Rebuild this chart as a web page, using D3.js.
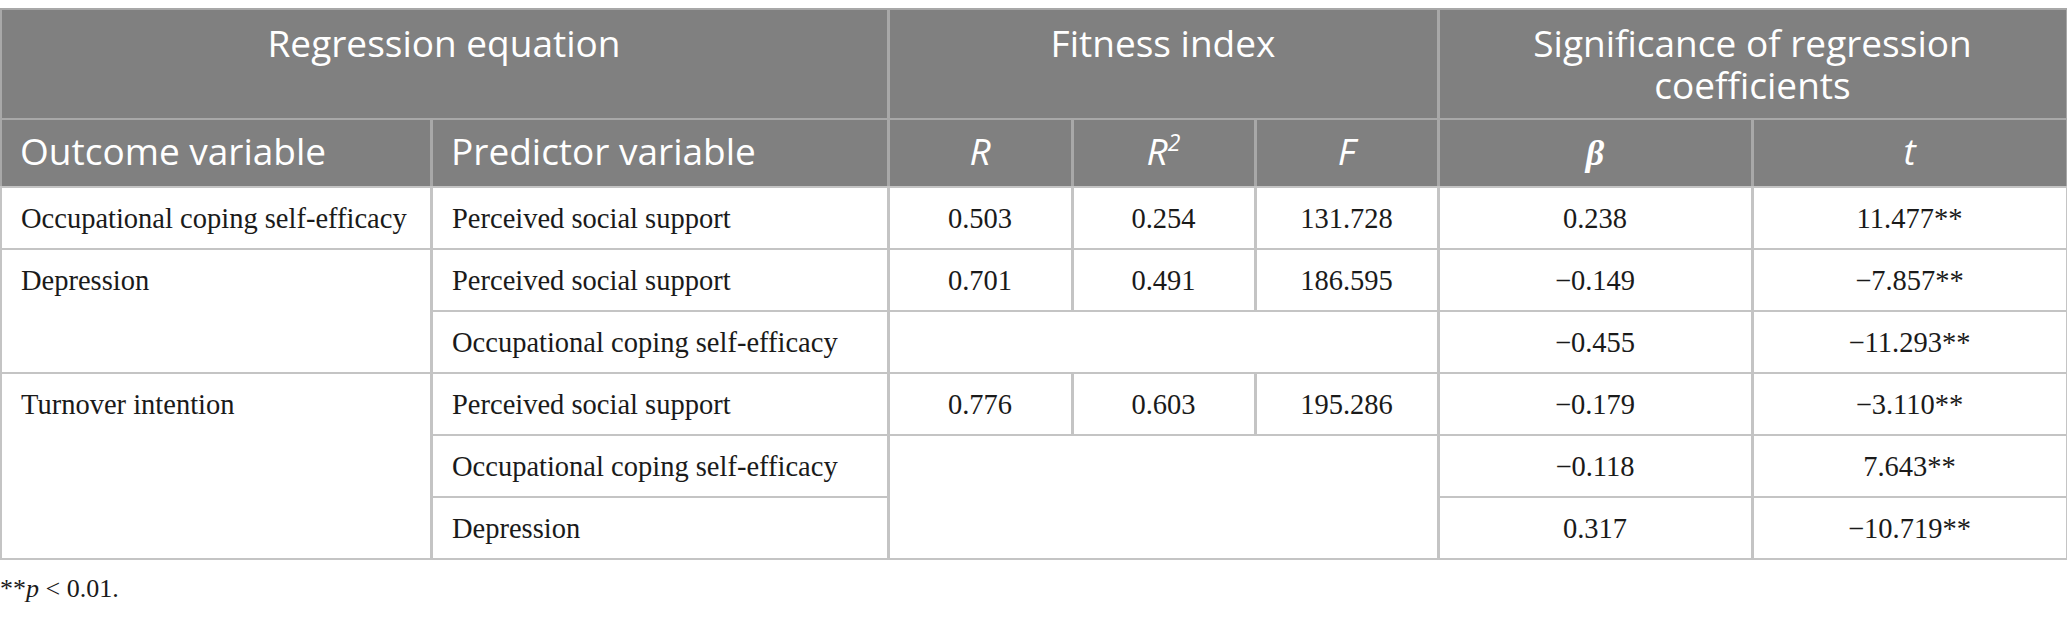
<!DOCTYPE html>
<html>
<head>
<meta charset="utf-8">
<script src="https://cdn.jsdelivr.net/npm/d3@7"></script>
<style>
  html, body { margin: 0; padding: 0; background: #ffffff; }
  svg { display: block; }
</style>
</head>
<body>
<div id="chart"></div>
<script>
// ---------------- DATA ----------------
const groupHeaders = ["Regression equation", "Fitness index", "Significance of regression coefficients"];
const groupSpans = [[0, 2], [2, 5], [5, 7]];
const columnHeaders = ["Outcome variable", "Predictor variable", "R", "R2", "F", "β", "t"];
const outcomes = ["Occupational coping self-efficacy", "Depression", "Turnover intention"];
const outcomeRowSpans = [[0, 1], [1, 3], [3, 6]];
const predictors = [
  "Perceived social support",
  "Perceived social support",
  "Occupational coping self-efficacy",
  "Perceived social support",
  "Occupational coping self-efficacy",
  "Depression"
];
const fitRowSpans = [[0, 1], [1, 2], [2, 3], [3, 4], [4, 6]];
const valuesR  = ["0.503", "0.701", "", "0.776", ""];
const valuesR2 = ["0.254", "0.491", "", "0.603", ""];
const valuesF  = ["131.728", "186.595", "", "195.286", ""];
const valuesBeta = ["0.238", "−0.149", "−0.455", "−0.179", "−0.118", "0.317"];
const valuesT = ["11.477**", "−7.857**", "−11.293**", "−3.110**", "7.643**", "−10.719**"];
const footnote = "**p < 0.01.";

// ---------------- LAYOUT ----------------
const W = 2067, H = 618;
const colWidths = [431, 457, 184, 183, 183, 314, 315];
const edges = [0, ...d3.cumsum(colWidths)];
const xCol = d3.scaleOrdinal().domain(d3.range(edges.length)).range(edges);
const top0 = 9, head1Bottom = 119, head2Bottom = 187, tableBottom = 559;
const nRows = predictors.length;
const yRow = d3.scaleLinear().domain([0, nRows]).range([head2Bottom, tableBottom]);

const headFill = "#808080", headLine = "#a8a8a8", bodyLine = "#c4c4c4";
const sans = "'Open Sans', 'Noto Sans', sans-serif";
const serif = "'Liberation Serif', 'DejaVu Serif', serif";
const headSize = 37, bodySize = 28.5;

const svg = d3.select("#chart").append("svg")
  .attr("width", W).attr("height", H)
  .attr("viewBox", `0 0 ${W} ${H}`);

// ---------- header row 1 ----------
const g1 = svg.append("g");
groupHeaders.forEach((label, i) => {
  const [c0, c1] = groupSpans[i];
  const x0 = xCol(c0), x1 = xCol(c1);
  g1.append("rect")
    .attr("x", x0 + 1).attr("y", top0)
    .attr("width", x1 - x0 - 1).attr("height", head1Bottom - top0)
    .attr("fill", headFill).attr("stroke", headLine).attr("stroke-width", 2);
  const maxW = x1 - x0 - 40;
  const words = label.split(" ");
  const lines = [];
  let line = [];
  const probe = g1.append("text")
    .attr("font-family", sans).attr("font-size", headSize);
  words.forEach(w => {
    line.push(w);
    probe.text(line.join(" "));
    if (probe.node().getComputedTextLength() > maxW && line.length > 1) {
      line.pop();
      lines.push(line.join(" "));
      line = [w];
    }
  });
  lines.push(line.join(" "));
  probe.remove();
  lines.forEach((ln, k) => {
    g1.append("text")
      .attr("x", (x0 + x1) / 2).attr("y", top0 + 48 + k * 42)
      .attr("text-anchor", "middle")
      .attr("font-family", sans).attr("font-size", headSize)
      .attr("fill", "#ffffff")
      .text(ln);
  });
});

// ---------- header row 2 ----------
const g2 = svg.append("g");
columnHeaders.forEach((label, i) => {
  const x0 = xCol(i), x1 = xCol(i + 1);
  g2.append("rect")
    .attr("x", x0 + 1).attr("y", head1Bottom)
    .attr("width", x1 - x0 - 1).attr("height", head2Bottom - head1Bottom)
    .attr("fill", headFill).attr("stroke", headLine).attr("stroke-width", 2);
  const left = i < 2;
  const isBeta = label === "β";
  const t = g2.append("text")
    .attr("x", left ? x0 + 20 : (x0 + x1) / 2)
    .attr("y", head1Bottom + 46)
    .attr("text-anchor", left ? "start" : "middle")
    .attr("font-family", isBeta ? serif : sans)
    .attr("font-size", isBeta ? 36 : headSize)
    .attr("font-weight", isBeta ? "bold" : "normal")
    .attr("font-style", left ? "normal" : "italic")
    .attr("fill", "#ffffff");
  if (label === "R2") {
    t.append("tspan").text("R");
    t.append("tspan").attr("font-size", headSize * 0.62).attr("dy", -14).text("2");
  } else {
    t.text(label);
  }
});

// ---------- body ----------
const gb = svg.append("g");
function cell(c0, c1, r0, r1) {
  gb.append("rect")
    .attr("x", xCol(c0) + 1).attr("y", yRow(r0))
    .attr("width", xCol(c1) - xCol(c0) - 1)
    .attr("height", yRow(r1) - yRow(r0))
    .attr("fill", "#ffffff").attr("stroke", bodyLine).attr("stroke-width", 2);
}
function txt(str, x, r, anchor) {
  gb.append("text")
    .attr("x", x).attr("y", yRow(r) + 41)
    .attr("text-anchor", anchor)
    .attr("font-family", serif).attr("font-size", bodySize)
    .attr("fill", "#1a1a1a")
    .text(str);
}

outcomes.forEach((o, i) => {
  const [r0, r1] = outcomeRowSpans[i];
  cell(0, 1, r0, r1);
});
predictors.forEach((p, i) => cell(1, 2, i, i + 1));
fitRowSpans.forEach(([r0, r1], i) => {
  if (valuesR[i] === "") {
    cell(2, 5, r0, r1);
  } else {
    cell(2, 3, r0, r1); cell(3, 4, r0, r1); cell(4, 5, r0, r1);
  }
});
valuesBeta.forEach((b, i) => { cell(5, 6, i, i + 1); cell(6, 7, i, i + 1); });

outcomes.forEach((o, i) => txt(o, xCol(0) + 21, outcomeRowSpans[i][0], "start"));
predictors.forEach((p, i) => txt(p, xCol(1) + 21, i, "start"));
fitRowSpans.forEach(([r0], i) => {
  if (valuesR[i] !== "") {
    txt(valuesR[i], (xCol(2) + xCol(3)) / 2, r0, "middle");
    txt(valuesR2[i], (xCol(3) + xCol(4)) / 2, r0, "middle");
    txt(valuesF[i], (xCol(4) + xCol(5)) / 2, r0, "middle");
  }
});
valuesBeta.forEach((b, i) => txt(b, (xCol(5) + xCol(6)) / 2, i, "middle"));
valuesT.forEach((t, i) => txt(t, (xCol(6) + xCol(7)) / 2, i, "middle"));

// ---------- footnote ----------
const fn = svg.append("text")
  .attr("x", 0).attr("y", 597)
  .attr("font-family", serif).attr("font-size", 26)
  .attr("fill", "#1a1a1a");
const m = footnote.match(/^(\*\*)(p)(.*)$/);
fn.append("tspan").text(m[1]);
fn.append("tspan").attr("font-style", "italic").text(m[2]);
fn.append("tspan").text(m[3]);
</script>
</body>
</html>
